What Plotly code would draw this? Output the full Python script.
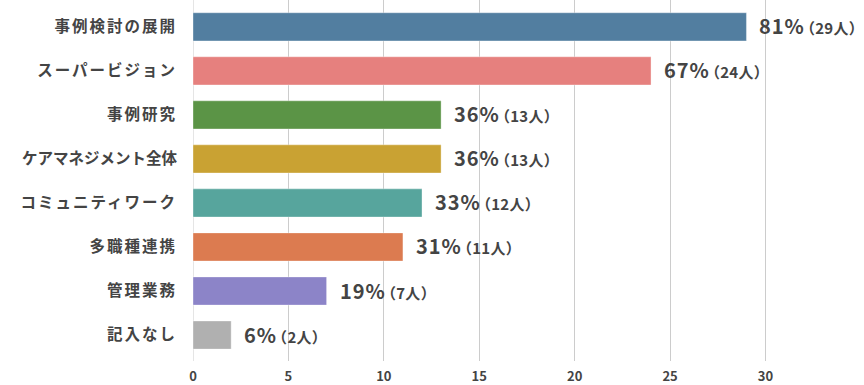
import plotly.graph_objects as go

categories = ["事例検討の展開", "スーパービジョン", "事例研究", "ケアマネジメント全体",
              "コミュニティワーク", "多職種連携", "管理業務", "記入なし"]
counts = [29, 24, 13, 13, 12, 11, 7, 2]
percents = [81, 67, 36, 36, 33, 31, 19, 6]
colors = ["#527ea0", "#e6807e", "#5b9446", "#c9a233", "#57a59d", "#dc7b50", "#8c84c8", "#b0b0b0"]
x_ticks = [0, 5, 10, 15, 20, 25, 30]

FONT = "Noto Sans CJK JP"
TXT = "#444444"

fig = go.Figure()
fig.add_trace(go.Bar(
    y=categories, x=counts, orientation="h",
    marker=dict(color=colors, line=dict(color="rgba(255,255,255,0.35)", width=1)),
    width=0.64, hoverinfo="skip",
))

for c, v, p in zip(categories, counts, percents):
    fig.add_annotation(
        x=v, y=c, xref="x", yref="y", xanchor="left", yanchor="middle",
        xshift=11, yshift=1, showarrow=False,
        text=(f"<span style='letter-spacing:1px'>{p}</span>"
              f"<span style='letter-spacing:-4px'>%</span>"
              f"<span style='font-size:15px;letter-spacing:0.3px'>（{v}人）</span>"),
        font=dict(family=FONT, size=20, color=TXT, weight="bold"),
    )

def spaced(label):
    sp = 0 if len(label) >= 10 else 2
    return f"<span style='letter-spacing:{sp}px'>{label}</span>"

tick_text = [spaced(c) for c in categories]

fig.update_layout(
    width=864, height=385,
    margin=dict(l=193, r=4, t=0, b=24, autoexpand=False),
    paper_bgcolor="white", plot_bgcolor="white",
    showlegend=False,
    font=dict(family=FONT, color=TXT),
    xaxis=dict(range=[0, 34.95], tickvals=x_ticks, showgrid=True, gridcolor="#cccccc",
               gridwidth=1, zeroline=False, showline=False, ticks="",
               tickfont=dict(family=FONT, size=13, color=TXT, weight="bold"),
               ticklabelstandoff=6, fixedrange=True),
    yaxis=dict(categoryorder="array", categoryarray=categories, autorange=False,
               range=[7.59, -0.61], showgrid=False, zeroline=False, showline=False,
               ticks="", tickvals=categories, ticktext=tick_text,
               tickfont=dict(family=FONT, size=15.5, color=TXT, weight="bold"),
               ticklabelstandoff=15, fixedrange=True),
)
fig.add_shape(type="line", xref="x", yref="paper", x0=0, x1=0, y0=0, y1=1,
              line=dict(color="#cccccc", width=1), layer="below")

fig.write_html("out.html", post_script="document.body.style.margin='0';",
               config={"displayModeBar": False})
